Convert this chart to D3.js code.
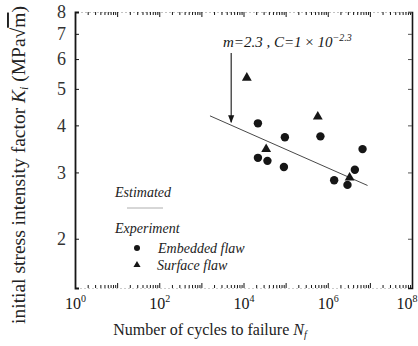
<!DOCTYPE html>
<html>
<head>
<meta charset="utf-8">
<script src="https://cdn.jsdelivr.net/npm/d3@7"></script>
<style>
  html, body { margin: 0; padding: 0; background: #fff; }
  svg { display: block; }
</style>
</head>
<body>
<div id="chart"></div>
<script>
const W = 418, H = 346;
const SERIF = "'Liberation Serif', 'DejaVu Serif', serif";

// Embedded flaw (circles): cycles to failure, K_i
const embeddedN = [2.2e4, 9.6e4, 6.7e5, 6.7e6, 2.2e4, 3.7e4, 9.1e4, 4.4e6, 1.42e6, 2.94e6];
const embeddedK = [4.05, 3.72, 3.74, 3.46, 3.28, 3.22, 3.10, 3.05, 2.86, 2.78];

// Surface flaw (triangles)
const surfaceN = [1.2e4, 5.8e5, 3.45e4, 3.3e6];
const surfaceK = [5.35, 4.22, 3.46, 2.905];

// Estimated line end points
const estN = [1.6e3, 8.8e6];
const estK = [4.24, 2.77];

const xMajor = [1, 1e2, 1e4, 1e6, 1e8];
const xLabelsExp = ['0', '2', '4', '6', '8'];
const yTicks = [2, 3, 4, 5, 6, 7, 8];

const margin = { left: 75, right: 6, top: 12, bottom: 58 };

const x = d3.scaleLog().domain([1, 1e8]).range([margin.left, W - margin.right]);
const y = d3.scaleLog().domain([1.48, 8]).range([H - margin.bottom, margin.top]);

const svg = d3.select('#chart').append('svg')
  .attr('width', W).attr('height', H)
  .attr('viewBox', `0 0 ${W} ${H}`)
  .attr('font-family', SERIF);

const ink = '#161616';

// ── Axes ──────────────────────────────────────────────
const minor = [];
for (let e = 0; e < 8; e++) for (let m = 1; m < 10; m++) minor.push(m * Math.pow(10, e));
minor.push(1e8);

const x0 = x.range()[0], x1 = x.range()[1];
const yB = y.range()[0], yT = y.range()[1];
const isMajor = d => Math.abs(Math.log10(d) - Math.round(Math.log10(d))) < 1e-9;

// bottom ticks (inside)
const bottomAx = svg.append('g').attr('transform', `translate(0,${yB})`)
  .call(d3.axisBottom(x).tickValues(minor).tickSize(-3).tickFormat(''));
bottomAx.select('.domain').attr('stroke', '#aaa').attr('stroke-width', 0.6).attr('stroke-dasharray', '2,2');
bottomAx.selectAll('.tick line').attr('stroke', ink)
  .attr('y2', d => (isMajor(d) ? -5 : -3));

// top ticks (inside)
const topAx = svg.append('g').attr('transform', `translate(0,${yT})`)
  .call(d3.axisTop(x).tickValues(minor).tickSize(-3).tickFormat(''));
topAx.select('.domain').attr('stroke', '#999').attr('stroke-width', 0.6).attr('stroke-dasharray', '2,2');
topAx.selectAll('.tick line').attr('stroke', ink)
  .attr('y2', d => (isMajor(d) ? 5 : 3));

// x labels 10^n
const xLab = svg.append('g').attr('transform', `translate(0,${yB})`)
  .call(d3.axisBottom(x).tickValues(xMajor).tickSize(0).tickPadding(0).tickFormat(''))
  .attr('font-family', SERIF);
xLab.select('.domain').remove();
xLab.selectAll('.tick').append('text')
  .attr('y', 21).attr('fill', ink)
  .attr('text-anchor', (d, i) => (i === xMajor.length - 1 ? 'end' : 'middle'))
  .attr('x', (d, i) => (i === xMajor.length - 1 ? 5 : 0))
  .attr('font-size', 16)
  .each(function(d, i) {
    const t = d3.select(this);
    t.append('tspan').text('10');
    t.append('tspan').attr('dy', -7).attr('font-size', 10).text(xLabelsExp[i]);
  });

// left axis
const leftAx = svg.append('g').attr('transform', `translate(${x0},0)`)
  .call(d3.axisLeft(y).tickValues(yTicks).tickSize(-4).tickPadding(9).tickFormat(d3.format('d')))
  .attr('font-family', SERIF);
leftAx.select('.domain').attr('stroke', ink).attr('stroke-width', 1.8);
leftAx.selectAll('.tick line').attr('stroke', ink);
leftAx.selectAll('.tick text').attr('font-size', 18).attr('fill', '#333');

// right axis
const rightAx = svg.append('g').attr('transform', `translate(${x1},0)`)
  .call(d3.axisRight(y).tickValues(yTicks).tickSize(-4).tickFormat(''));
rightAx.select('.domain').attr('stroke', ink).attr('stroke-width', 1.6);
rightAx.selectAll('.tick line').attr('stroke', '#555');

// ── Axis titles ───────────────────────────────────────
const xTitle = svg.append('text')
  .attr('x', 210).attr('y', 335).attr('text-anchor', 'middle')
  .attr('font-size', 16).attr('fill', '#222');
xTitle.append('tspan').text('Number of cycles to failure ');
xTitle.append('tspan').attr('font-style', 'italic').text('N');
xTitle.append('tspan').attr('font-size', 10).attr('dy', 3).attr('font-style', 'italic').text('f');

const yTitle = svg.append('text')
  .attr('transform', `translate(25,${165}) rotate(-90)`)
  .attr('text-anchor', 'middle').attr('font-size', 19.5).attr('fill', '#222');
yTitle.append('tspan').text('initial stress intensity factor ');
yTitle.append('tspan').attr('font-style', 'italic').text('K');
yTitle.append('tspan').attr('font-size', 12).attr('dy', 3).attr('font-style', 'italic').text('i');
yTitle.append('tspan').attr('dy', -3).text(' (MPa');
yTitle.append('tspan').text('\u221A');
yTitle.append('tspan').attr('text-decoration', 'overline').text('m');
yTitle.append('tspan').text(')');

// ── Estimated line ────────────────────────────────────
svg.append('line')
  .attr('x1', x(estN[0])).attr('y1', y(estK[0]))
  .attr('x2', x(estN[1])).attr('y2', y(estK[1]))
  .attr('stroke', '#333').attr('stroke-width', 0.9);

// annotation arrow
const arrowN = 5.1e3;
svg.append('defs').append('marker')
  .attr('id', 'ah').attr('viewBox', '0 0 10 10').attr('refX', 9).attr('refY', 5)
  .attr('markerWidth', 7).attr('markerHeight', 7).attr('orient', 'auto')
  .append('path').attr('d', 'M0,1 L10,5 L0,9 Z').attr('fill', ink);
svg.append('line')
  .attr('x1', x(arrowN)).attr('y1', y(6.23))
  .attr('x2', x(arrowN)).attr('y2', y(4.08))
  .attr('stroke', ink).attr('stroke-width', 1.1)
  .attr('marker-end', 'url(#ah)');

const ann = svg.append('text')
  .attr('x', 223).attr('y', 47).attr('font-size', 15).attr('font-style', 'italic').attr('fill', ink);
ann.append('tspan').text('m');
ann.append('tspan').text('=2.3 , ');
ann.append('tspan').text('C');
ann.append('tspan').text('=1 ');
ann.append('tspan').attr('font-style', 'normal').text('×');
ann.append('tspan').text(' 10');
ann.append('tspan').attr('dy', -6).attr('font-size', 10).text('−2.3');

// ── Points ────────────────────────────────────────────
svg.append('g').selectAll('circle')
  .data(embeddedN.map((n, i) => [n, embeddedK[i]]))
  .join('circle')
  .attr('cx', d => x(d[0])).attr('cy', d => y(d[1]))
  .attr('r', 4.2).attr('fill', ink);

const tri = d3.symbol().type(d3.symbolTriangle).size(42);
svg.append('g').selectAll('path')
  .data(surfaceN.map((n, i) => [n, surfaceK[i]]))
  .join('path')
  .attr('transform', d => `translate(${x(d[0])},${y(d[1])})`)
  .attr('d', tri).attr('fill', ink);

// ── Legend ────────────────────────────────────────────
const lg = svg.append('g').attr('font-style', 'italic').attr('font-size', 14).attr('fill', '#222');
lg.append('text').attr('x', 115).attr('y', 197).text('Estimated');
lg.append('line').attr('x1', 127).attr('x2', 163).attr('y1', 208).attr('y2', 208)
  .attr('stroke', '#999').attr('stroke-width', 0.8);
lg.append('text').attr('x', 115).attr('y', 233).text('Experiment');
lg.append('circle').attr('cx', 137).attr('cy', 248).attr('r', 3).attr('fill', ink);
lg.append('text').attr('x', 158).attr('y', 253).text('Embedded flaw');
lg.append('path').attr('transform', 'translate(137,265)')
  .attr('d', d3.symbol().type(d3.symbolTriangle).size(22)).attr('fill', ink);
lg.append('text').attr('x', 157).attr('y', 270).text('Surface flaw');
</script>
</body>
</html>
